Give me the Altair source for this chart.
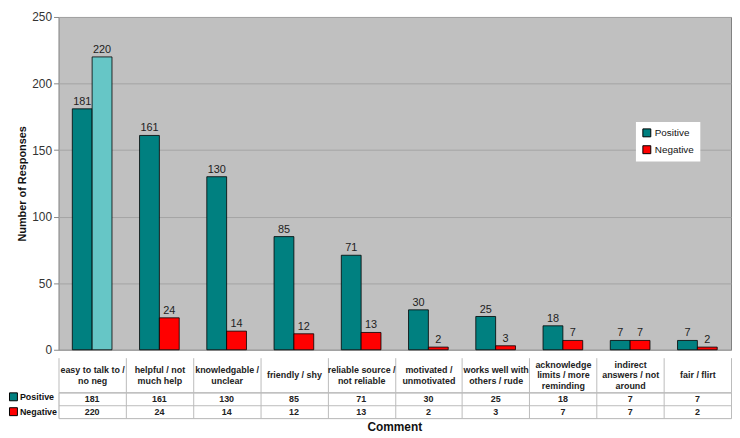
import altair as alt
import pandas as pd

FONT = "Liberation Sans"

categories = [
    "easy to talk to /|no neg",
    "helpful / not|much help",
    "knowledgable /|unclear",
    "friendly / shy",
    "reliable source /|not reliable",
    "motivated /|unmotivated",
    "works well with|others / rude",
    "acknowledge|limits / more|reminding",
    "indirect|answers /  not|around",
    "fair / flirt",
]
positive = [181, 161, 130, 85, 71, 30, 25, 18, 7, 7]
negative = [220, 24, 14, 12, 13, 2, 3, 7, 7, 2]
series = ["Positive", "Negative"]
colors = ["#008080", "#FF0000"]
special_fill = "#66C6C6"
y_ticks = [0, 50, 100, 150, 200, 250]

rows = []
for i, c in enumerate(categories):
    rows.append({"cat": c, "idx": i, "series": "Positive", "value": positive[i]})
    rows.append({"cat": c, "idx": i, "series": "Negative", "value": negative[i]})
df = pd.DataFrame(rows)

W = 679
H = 336
CELL = 35
LH = 11

color_scale = alt.Scale(domain=series, range=colors)
base = alt.Chart(df)

xs = alt.X("cat:N", sort=categories, axis=None,
           scale=alt.Scale(paddingInner=0.41, paddingOuter=0.205))
xoff = alt.XOffset("series:N", sort=series)

bars = base.mark_bar(stroke="black", strokeWidth=0.8).encode(
    x=xs,
    xOffset=xoff,
    y=alt.Y("value:Q", scale=alt.Scale(domain=[0, 250], nice=False),
            axis=alt.Axis(values=y_ticks, title="Number of Responses",
                          titleFont=FONT, titleFontSize=11, titleFontWeight="bold",
                          titleColor="#111", titlePadding=4,
                          labelFont=FONT, labelFontSize=12, labelColor="#333",
                          tickSize=5, tickColor="#888", domain=False,
                          gridColor="#A4A4A4", gridWidth=1)),
    color=alt.condition(
        "datum.series == 'Negative' && datum.idx == 0",
        alt.value(special_fill),
        alt.Color("series:N", sort=series, scale=color_scale,
                  legend=alt.Legend(orient="none", legendX=583, legendY=106,
                                    title=None, fillColor="white", padding=6,
                                    labelFont=FONT, labelFontSize=10, labelColor="#111",
                                    symbolType="square", symbolSize=64,
                                    symbolStrokeColor="black", symbolStrokeWidth=1,
                                    symbolOpacity=1, rowPadding=5, labelOffset=3)),
    ),
)
bar_labels = base.mark_text(dy=-7, fontSize=11, font=FONT, color="#222").encode(
    x=xs, xOffset=xoff, y="value:Q", text="value:Q"
)
top = (bars + bar_labels).properties(
    width=W, height=H,
    view=alt.ViewBackground(fill="#C0C0C0", stroke="#808080"),
)

nlines = "length(split(datum.label, '|'))"
label_pad = {
    "condition": [
        {"test": nlines + " == 3", "value": -CELL / 2 + LH},
        {"test": nlines + " == 2", "value": -CELL / 2 + LH / 2},
    ],
    "value": -CELL / 2,
}

xb = alt.X("cat:N", sort=categories,
           scale=alt.Scale(paddingInner=0, paddingOuter=0),
           axis=alt.Axis(orient="top", title=None,
                         labelExpr="split(datum.label, '|')",
                         labelFont=FONT, labelFontSize=9, labelFontWeight="bold",
                         labelColor="#222", labelLineHeight=LH,
                         labelBaseline="middle", labelPadding=label_pad, labelAngle=0,
                         tickBand="extent", tickSize=CELL, tickColor="#BBBBBB",
                         grid=True, gridColor="#BBBBBB", domainColor="#BBBBBB"))
yb = alt.Y("series:N", sort=series,
           scale=alt.Scale(paddingInner=0, paddingOuter=0),
           axis=alt.Axis(labels=False, ticks=False, domain=False, title=None,
                         grid=True, tickBand="extent", gridColor="#BBBBBB"))
cells = base.mark_text(fontSize=9, fontWeight="bold", font=FONT, color="#222").encode(
    x=xb, y=yb, text="value:Q"
)
keys = base.mark_square(opacity=0).encode(
    x=xb, y=yb,
    color=alt.Color("series:N", sort=series, scale=color_scale,
                    legend=alt.Legend(orient="left", offset=1, title=None, padding=0,
                                      labelFont=FONT, labelFontSize=9,
                                      labelFontWeight="bold", labelColor="#111",
                                      symbolType="square", symbolSize=64,
                                      symbolStrokeColor="black", symbolStrokeWidth=1,
                                      symbolOpacity=1, rowPadding=2, labelOffset=2)),
)
table = (cells + keys).properties(
    width=W, height=26,
    title=alt.TitleParams("Comment", orient="bottom", font=FONT, fontSize=12,
                          fontWeight="bold", color="#111", anchor="middle", offset=4),
)

chart = alt.vconcat(top, table, spacing=0).resolve_scale(
    x="independent", color="independent"
).resolve_legend(color="independent").properties(padding=0).configure_view(
    strokeWidth=1
)

chart.save("out.html", embed_options={"renderer": "svg", "actions": False})
